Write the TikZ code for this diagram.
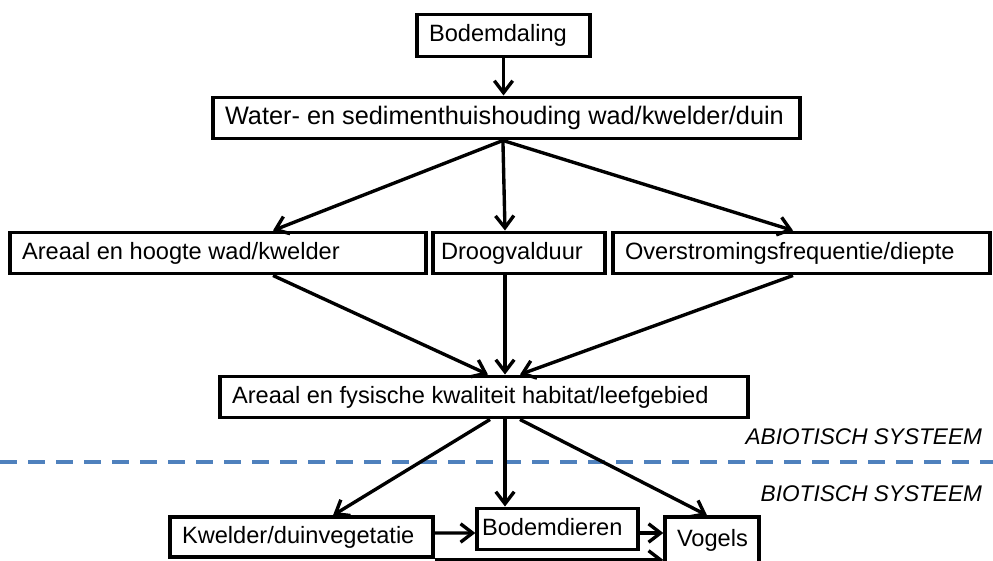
\documentclass[tikz,border=0pt]{standalone}
\usepackage{fontspec}
\setmainfont{Liberation Sans}
\usepackage{xcolor}
\usepackage{tikz}
\usetikzlibrary{arrows.meta, positioning}
\definecolor{sepblue}{HTML}{4F81BD}
\newcommand{\lefttext}[2]{\makebox[#1][l]{#2}}

\begin{document}
\begin{tikzpicture}[font=\fontsize{16.8}{20}\selectfont,
		box/.style={shape=rectangle, draw, line width=2.4pt, inner xsep=0.3cm, inner ysep=0pt, minimum height=1.04cm, text height=1.0em, text depth=0.1em},
		arr/.style={line width=2.4pt, -{Straight Barb[length=0.3cm, width=0.46cm]}},
		syslbl/.style={anchor=base east, font=\fontsize{16.1}{19}\selectfont\itshape}]
			\useasboundingbox (0, 0) rectangle (24.825, 14);
			% Boxes:
			\node[box] (dal) at (12.588, 13.113){\lefttext{3.725cm}{Bodemdaling}};
			\node[box, font=\fontsize{18}{21}\selectfont] (wat) at (12.663, 11.05){\lefttext{14.075cm}{Water- en sedimenthuishouding wad/kwelder/duin}};
			\node[box] (are) at (5.45, 7.675){\lefttext{9.8cm}{Areaal en hoogte wad/kwelder}};
			\node[box, inner xsep=0.2cm] (dro) at (12.975, 7.675){\lefttext{3.9cm}{Droogvalduur}};
			\node[box] (ove) at (20.038, 7.675){\lefttext{8.825cm}{Overstromingsfrequentie/diepte}};
			\node[box] (hab) at (12.1, 4.075){\lefttext{12.6cm}{Areaal en fysische kwaliteit habitat/leefgebied}};
			\node[box, minimum height=1cm] (kwe) at (7.538, 0.575){\lefttext{5.975cm}{Kwelder/duinvegetatie}};
			\node[box, inner xsep=0.125cm] (bod) at (13.938, 0.775){\lefttext{3.775cm}{Bodemdieren}};
			\node[box, minimum height=1.15cm] (vog) at (17.8, 0.5){\lefttext{1.75cm}{Vogels}};
			% Separation abiotic / biotic:
			\draw[sepblue, line width=0.1cm, dash pattern=on 0.425cm off 0.275cm] (0, 2.45) -- (24.825, 2.45);
			\node[syslbl] (abio) at (24.675, 2.875){ABIOTISCH SYSTEEM};
			\node[syslbl] (bio) at (24.675, 1.45){BIOTISCH SYSTEEM};
			% Arrows:
			\draw[arr] (dal.south) -- (dal.south |- wat.north);
			\draw[arr] ([xshift=-0.09cm]wat.south) -- ([xshift=1.375cm]are.north);
			\draw[arr] ([xshift=-0.09cm]wat.south) -- ([xshift=-0.35cm]dro.north);
			\draw[arr] ([xshift=-0.09cm]wat.south) -- ([xshift=-0.2125cm]ove.north);
			\draw[arr] ([xshift=1.375cm]are.south) -- ([xshift=0.1cm]hab.north);
			\draw[arr] ([xshift=-0.35cm]dro.south) -- ([xshift=-0.35cm]dro.south |- hab.north);
			\draw[arr] ([xshift=-0.2125cm]ove.south) -- ([xshift=0.9cm]hab.north);
			\draw[arr] ([xshift=0.15cm]hab.south) -- ([xshift=0.7875cm]kwe.north);
			\draw[arr] ([xshift=0.525cm]hab.south) -- ([xshift=0.525cm]hab.south |- bod.north);
			\draw[arr] ([xshift=0.9cm]hab.south) -- ([xshift=-0.125cm]vog.north);
			\draw[arr] ([yshift=0.1cm]kwe.east) -- ([yshift=-0.1cm]bod.west);
			\draw[arr] ([yshift=-0.1cm]bod.east) -- ([yshift=-0.1cm]bod.east -| vog.west);
			\draw[arr] ([yshift=-0.03cm]kwe.south east) -- ([yshift=-0.03cm]kwe.south east -| vog.west);
		\end{tikzpicture}
\end{document}
